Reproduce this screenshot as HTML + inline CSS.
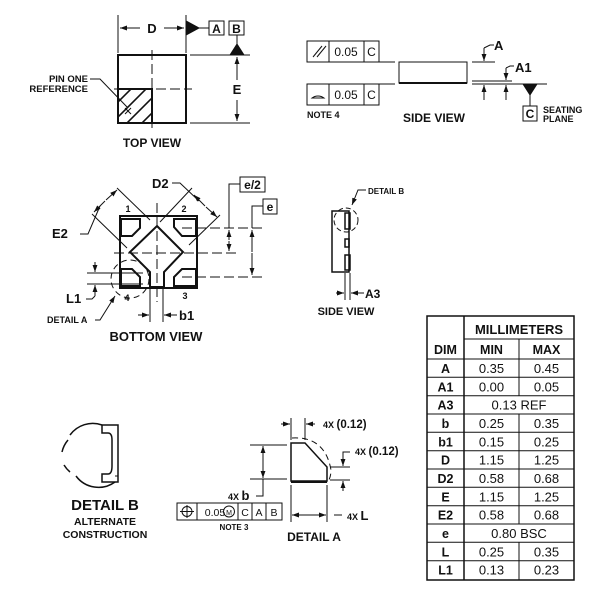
<!DOCTYPE html>
<html><head><meta charset="utf-8"><style>
body{margin:0;background:#fff}
svg{display:block}
text{font-family:"Liberation Sans",Arial,sans-serif;fill:#111}
.b{font-weight:bold}
</style></head><body>
<svg width="600" height="600" viewBox="0 0 600 600" xmlns="http://www.w3.org/2000/svg">
<defs>
<marker id="ar" viewBox="0 0 10 10" refX="10" refY="5" markerWidth="7" markerHeight="7" orient="auto-start-reverse"><path d="M0,1.5 L10,5 L0,8.5 z" fill="#111"/></marker>
<clipPath id="hq"><rect x="118" y="89" width="34" height="34"/></clipPath>
</defs>
<g stroke="#111" fill="none" stroke-width="1">
<!-- TOP VIEW -->
<rect x="118" y="55" width="68" height="68" stroke-width="2"/>
<line x1="152" y1="50" x2="152" y2="128" stroke-dasharray="10,4"/>
<line x1="114" y1="89" x2="192" y2="89" stroke-dasharray="10,4"/>
<g clip-path="url(#hq)" stroke-width="1.6">
<line x1="100" y1="120" x2="150" y2="70"/>
<line x1="100" y1="135" x2="150" y2="85"/>
<line x1="110" y1="140" x2="160" y2="90"/>
<line x1="125" y1="140" x2="175" y2="90"/>
</g>
<rect x="118" y="89" width="34" height="34" stroke-width="2"/>
<path d="M90,79 L100,79 L128,108"/>
<path d="M125,108 l6,6 M131,108 l-6,6"/>
<line x1="118" y1="15" x2="118" y2="53"/><line x1="186" y1="15" x2="186" y2="53"/>
<line x1="120" y1="28" x2="140" y2="28" marker-start="url(#ar)"/>
<line x1="164" y1="28" x2="184" y2="28" marker-end="url(#ar)"/>
<path d="M186,21 L199,28 L186,35 z" fill="#111"/>
<line x1="199" y1="28" x2="209" y2="28"/>
<rect x="209" y="21" width="15" height="14"/><rect x="229" y="21" width="15" height="14"/>
<line x1="237" y1="35" x2="237" y2="46"/>
<path d="M230,55 L237,44 L244,55 z" fill="#111"/>
<line x1="190" y1="55" x2="250" y2="55"/><line x1="190" y1="123" x2="250" y2="123"/>
<line x1="237" y1="80" x2="237" y2="57" marker-end="url(#ar)"/>
<line x1="237" y1="100" x2="237" y2="121" marker-end="url(#ar)"/>

<!-- SIDE VIEW TOP RIGHT -->
<rect x="307" y="41" width="72" height="21"/><line x1="329" y1="41" x2="329" y2="62"/><line x1="364" y1="41" x2="364" y2="62"/>
<line x1="313" y1="57" x2="322" y2="46"/><line x1="317" y1="57" x2="326" y2="46"/>
<rect x="307" y="84" width="72" height="21"/><line x1="329" y1="84" x2="329" y2="105"/><line x1="364" y1="84" x2="364" y2="105"/>
<path d="M312,98 A9,8 0 0 1 324,98 Z"/>
<line x1="379" y1="62" x2="395" y2="62"/><line x1="379" y1="84" x2="395" y2="84"/>
<rect x="399" y="62" width="68" height="21"/><line x1="399" y1="83" x2="467" y2="83" stroke-width="2"/>
<line x1="472" y1="62" x2="495" y2="62"/>
<line x1="484" y1="48" x2="484" y2="61" marker-end="url(#ar)"/><path d="M484,48 L490,45 L494,45"/>
<line x1="472" y1="81" x2="512" y2="81"/>
<line x1="472" y1="84" x2="547" y2="84"/>
<line x1="484" y1="100" x2="484" y2="85" marker-end="url(#ar)"/>
<line x1="506" y1="100" x2="506" y2="85" marker-end="url(#ar)"/>
<line x1="506" y1="68" x2="506" y2="80" marker-end="url(#ar)"/><path d="M506,68 L510,66 L514,66"/>
<path d="M523,84 L537,84 L530,95 z" fill="#111"/>
<line x1="530" y1="94" x2="530" y2="106"/>
<rect x="523" y="106" width="14" height="15"/>

<!-- BOTTOM VIEW -->
<rect x="120" y="216" width="77" height="72" stroke-width="2"/>
<line x1="157" y1="203" x2="157" y2="302" stroke-dasharray="10,4"/>
<line x1="114" y1="253" x2="238" y2="253" stroke-dasharray="10,4"/>
<line x1="182" y1="228" x2="262" y2="228" stroke-dasharray="10,4"/>
<line x1="182" y1="277" x2="262" y2="277" stroke-dasharray="10,4"/>
<path d="M157,226 L183,252 L164,272 L164,287 L150,287 L150,272 L130,252 Z" stroke-width="2"/>
<path d="M121,219 L140,219 L140,228 L132,236 L121,236 Z" stroke-width="2"/>
<path d="M196,219 L174,219 L174,227 L182,236 L196,236 Z" stroke-width="2"/>
<path d="M121,269 L132,269 L140,277 L140,286 L121,286 Z" stroke-width="2"/>
<path d="M196,269 L182,269 L174,277 L174,286 L196,286 Z" stroke-width="2"/>
<!-- E2 -->
<line x1="117" y1="188" x2="150" y2="220"/><line x1="92" y1="214" x2="127" y2="248"/>
<line x1="105" y1="201" x2="94" y2="212" marker-end="url(#ar)"/><line x1="106" y1="200" x2="117" y2="190" marker-end="url(#ar)"/>
<path d="M80,234 L88,234 L100,206"/>
<!-- D2 -->
<line x1="192" y1="188" x2="160" y2="222"/><line x1="220" y1="215" x2="189" y2="245"/>
<line x1="205" y1="206" x2="194" y2="195" marker-end="url(#ar)"/><line x1="206" y1="207" x2="217" y2="217" marker-end="url(#ar)"/>
<path d="M172,183 L180,183 L199,201"/>
<!-- e/2, e -->
<line x1="229" y1="240" x2="229" y2="230" marker-end="url(#ar)"/><line x1="229" y1="241" x2="229" y2="251" marker-end="url(#ar)"/>
<path d="M229,228 L229,184 L240,184"/>
<rect x="240" y="177" width="25" height="15"/>
<line x1="252" y1="252" x2="252" y2="230" marker-end="url(#ar)"/><line x1="252" y1="253" x2="252" y2="275" marker-end="url(#ar)"/>
<path d="M252,228 L252,206 L263,206"/>
<rect x="263" y="199" width="14" height="15"/>
<!-- L1 -->
<line x1="87" y1="273" x2="143" y2="273"/><line x1="87" y1="284" x2="143" y2="284"/>
<line x1="95" y1="262" x2="95" y2="272" marker-end="url(#ar)"/>
<line x1="95" y1="296" x2="95" y2="285" marker-end="url(#ar)"/>
<path d="M86,299 L92,299 L95,296"/>
<circle cx="130" cy="279" r="19" stroke-dasharray="6,4"/>
<path d="M95,320 L100,320 L115,296" marker-end="url(#ar)"/>
<!-- b1 -->
<line x1="150" y1="288" x2="150" y2="322"/><line x1="163" y1="288" x2="163" y2="322"/>
<line x1="138" y1="315" x2="149" y2="315" marker-end="url(#ar)"/>
<line x1="177" y1="315" x2="164" y2="315" marker-end="url(#ar)"/>

<!-- SIDE VIEW MID -->
<path d="M332,211 L349,211 L349,272 L332,272 Z" stroke-width="1.5"/>
<rect x="345" y="213" width="5" height="16" stroke-width="1.5"/>
<rect x="345" y="239" width="4" height="8" stroke-width="1.5"/>
<rect x="345" y="255" width="5" height="15" stroke-width="1.5"/>
<circle cx="346" cy="220" r="12" stroke-dasharray="5,3"/>
<path d="M366,190 L358,190 L352,205" marker-end="url(#ar)"/>
<line x1="345" y1="273" x2="345" y2="300"/><line x1="350" y1="273" x2="350" y2="300"/>
<line x1="336" y1="293" x2="344" y2="293" marker-end="url(#ar)"/>
<line x1="364" y1="293" x2="351" y2="293" marker-end="url(#ar)"/>

<!-- DETAIL B -->
<path d="M102,425 A28,28 0 0 0 70,435" stroke-width="1.5"/>
<path d="M68,440 A28,28 0 0 0 62,452" stroke-width="1.5" />
<path d="M64,465 A28,28 0 0 0 70,472" stroke-width="1.5" />
<path d="M76,476 A28,28 0 0 0 115,482" stroke-width="1.5"/>
<path d="M102,425 L118,425 L118,482 L115,482" stroke-width="1.5"/>
<path d="M102,425 L102,433 L108,433 Q112,433 112,440 L112,466 Q112,474 108,474 L102,474 L102,482 L115,482" stroke-width="1.5"/>
<line x1="115" y1="476" x2="118" y2="476"/>

<!-- DETAIL A -->
<path d="M291,443 L305,443 L327,467 L327,481 L291,481 Z" stroke-width="1.5"/>
<line x1="291" y1="482" x2="327" y2="482" stroke-width="2"/>
<path d="M292,438 Q325,436 331,470 Q331,478 327,483" stroke-dasharray="6,4"/>
<line x1="291" y1="418" x2="291" y2="440"/><line x1="305" y1="418" x2="305" y2="440"/>
<line x1="281" y1="424" x2="290" y2="424" marker-end="url(#ar)"/>
<line x1="315" y1="424" x2="306" y2="424" marker-end="url(#ar)"/>
<line x1="330" y1="467" x2="350" y2="467"/><line x1="330" y1="480" x2="350" y2="480"/>
<line x1="343" y1="456" x2="343" y2="466" marker-end="url(#ar)"/>
<line x1="343" y1="491" x2="343" y2="481" marker-end="url(#ar)"/>
<path d="M343,456 L343,452 L350,452"/>
<line x1="250" y1="445" x2="287" y2="445"/><line x1="250" y1="479" x2="287" y2="479"/>
<line x1="263" y1="462" x2="263" y2="446" marker-end="url(#ar)"/>
<line x1="263" y1="462" x2="263" y2="478" marker-end="url(#ar)"/>
<path d="M263,479 L263,496 L256,496"/>
<rect x="177" y="503" width="105" height="17"/>
<line x1="197" y1="503" x2="197" y2="520"/><line x1="238" y1="503" x2="238" y2="520"/><line x1="252" y1="503" x2="252" y2="520"/><line x1="266" y1="503" x2="266" y2="520"/>
<circle cx="187" cy="511.5" r="5"/><line x1="180" y1="511.5" x2="194" y2="511.5"/><line x1="187" y1="505" x2="187" y2="518"/>
<circle cx="229" cy="511.5" r="5.5"/>
<line x1="291" y1="485" x2="291" y2="522"/><line x1="327" y1="485" x2="327" y2="522"/>
<line x1="309" y1="515" x2="292" y2="515" marker-end="url(#ar)"/>
<line x1="309" y1="515" x2="326" y2="515" marker-end="url(#ar)"/>
<line x1="334" y1="515" x2="342" y2="515"/>

<!-- TABLE -->
<rect x="427" y="316" width="147" height="264" stroke-width="1.5"/>
<line x1="464" y1="316" x2="464" y2="580" stroke-width="1.5"/>
<line x1="464" y1="339" x2="574" y2="339"/>
<line x1="519" y1="339" x2="519" y2="395.7"/>
<line x1="519" y1="414" x2="519" y2="524"/>
<line x1="519" y1="542.3" x2="519" y2="580"/>
<g stroke-width="1">
<line x1="427" y1="359" x2="574" y2="359"/>
<line x1="427" y1="377.3" x2="574" y2="377.3"/>
<line x1="427" y1="395.7" x2="574" y2="395.7"/>
<line x1="427" y1="414" x2="574" y2="414"/>
<line x1="427" y1="432.3" x2="574" y2="432.3"/>
<line x1="427" y1="450.7" x2="574" y2="450.7"/>
<line x1="427" y1="469" x2="574" y2="469"/>
<line x1="427" y1="487.3" x2="574" y2="487.3"/>
<line x1="427" y1="505.7" x2="574" y2="505.7"/>
<line x1="427" y1="524" x2="574" y2="524"/>
<line x1="427" y1="542.3" x2="574" y2="542.3"/>
<line x1="427" y1="560.7" x2="574" y2="560.7"/>
</g>
</g>

<!-- TEXT -->
<g class="b" font-size="12">
<text x="152" y="33" text-anchor="middle" font-size="13">D</text>
<text x="216.5" y="33" text-anchor="middle">A</text>
<text x="236.5" y="33" text-anchor="middle">B</text>
<text x="237" y="94" text-anchor="middle" font-size="13" style="paint-order:stroke" stroke="#fff" stroke-width="6">E</text>
<text x="88" y="82" text-anchor="end" font-size="9.5">PIN ONE</text>
<text x="88" y="92" text-anchor="end" font-size="9.5">REFERENCE</text>
<text x="152" y="147" text-anchor="middle" font-size="12">TOP VIEW</text>
<text x="494" y="50" font-size="13">A</text>
<text x="515" y="72" font-size="13">A1</text>
<text x="307" y="118" font-size="9">NOTE 4</text>
<text x="434" y="122" text-anchor="middle">SIDE VIEW</text>
<text x="530" y="118" text-anchor="middle" font-size="12">C</text>
<text x="543" y="113" font-size="9">SEATING</text>
<text x="543" y="122" font-size="9">PLANE</text>
<text x="152" y="188" font-size="13">D2</text>
<text x="52" y="238" font-size="13">E2</text>
<text x="252.5" y="189" text-anchor="middle" font-size="12">e/2</text>
<text x="270" y="211" text-anchor="middle" font-size="12">e</text>
<text x="128" y="212" text-anchor="middle" font-size="9">1</text>
<text x="184" y="212" text-anchor="middle" font-size="9">2</text>
<text x="185" y="299" text-anchor="middle" font-size="9">3</text>
<text x="127" y="301" text-anchor="middle" font-size="9">4</text>
<text x="66" y="303" font-size="13">L1</text>
<text x="47" y="323" font-size="9">DETAIL A</text>
<text x="179" y="320" font-size="13">b1</text>
<text x="156" y="341" text-anchor="middle" font-size="13">BOTTOM VIEW</text>
<text x="368" y="194" font-size="8">DETAIL B</text>
<text x="365" y="298" font-size="12">A3</text>
<text x="346" y="315" text-anchor="middle" font-size="11">SIDE VIEW</text>
<text x="105" y="510" text-anchor="middle" font-size="15">DETAIL B</text>
<text x="105" y="525" text-anchor="middle" font-size="10.5">ALTERNATE</text>
<text x="105" y="538" text-anchor="middle" font-size="10.5">CONSTRUCTION</text>
<text x="323" y="428" font-size="9">4X <tspan font-size="11.5">(0.12)</tspan></text>
<text x="355" y="455" font-size="9">4X <tspan font-size="11.5">(0.12)</tspan></text>
<text x="228" y="500" font-size="9">4X <tspan font-size="13">b</tspan></text>
<text x="347" y="520" font-size="9">4X <tspan font-size="13">L</tspan></text>
<text x="234" y="530" text-anchor="middle" font-size="8">NOTE 3</text>
<text x="314" y="541" text-anchor="middle" font-size="12">DETAIL A</text>
<text x="519" y="334" text-anchor="middle" font-size="13">MILLIMETERS</text>
<text x="445.5" y="354" text-anchor="middle" font-size="12.5">DIM</text>
<text x="491.5" y="354" text-anchor="middle" font-size="12.5">MIN</text>
<text x="546.5" y="354" text-anchor="middle" font-size="12.5">MAX</text>
<g font-size="12.5" text-anchor="middle">
<text x="445.5" y="373">A</text><text x="445.5" y="391.3">A1</text><text x="445.5" y="409.7">A3</text><text x="445.5" y="428">b</text><text x="445.5" y="446.3">b1</text><text x="445.5" y="464.7">D</text><text x="445.5" y="483">D2</text><text x="445.5" y="501.3">E</text><text x="445.5" y="519.7">E2</text><text x="445.5" y="538">e</text><text x="445.5" y="556.3">L</text><text x="445.5" y="574.7">L1</text>
</g>
</g>
<g font-size="13" text-anchor="middle">
<text x="346" y="56" font-size="12">0.05</text><text x="371.5" y="56" font-size="12">C</text>
<text x="346" y="99" font-size="12">0.05</text><text x="371.5" y="99" font-size="12">C</text>
<text x="215" y="516" font-size="10.5">0.05</text><text x="229" y="515" font-size="7">M</text>
<text x="245" y="516" font-size="10.5">C</text><text x="259" y="516" font-size="10.5">A</text><text x="274" y="516" font-size="10.5">B</text>
<text x="491.5" y="373">0.35</text><text x="546.5" y="373">0.45</text>
<text x="491.5" y="391.3">0.00</text><text x="546.5" y="391.3">0.05</text>
<text x="519" y="409.7">0.13 REF</text>
<text x="491.5" y="428">0.25</text><text x="546.5" y="428">0.35</text>
<text x="491.5" y="446.3">0.15</text><text x="546.5" y="446.3">0.25</text>
<text x="491.5" y="464.7">1.15</text><text x="546.5" y="464.7">1.25</text>
<text x="491.5" y="483">0.58</text><text x="546.5" y="483">0.68</text>
<text x="491.5" y="501.3">1.15</text><text x="546.5" y="501.3">1.25</text>
<text x="491.5" y="519.7">0.58</text><text x="546.5" y="519.7">0.68</text>
<text x="519" y="538">0.80 BSC</text>
<text x="491.5" y="556.3">0.25</text><text x="546.5" y="556.3">0.35</text>
<text x="491.5" y="574.7">0.13</text><text x="546.5" y="574.7">0.23</text>
</g>
</svg>
</body></html>
